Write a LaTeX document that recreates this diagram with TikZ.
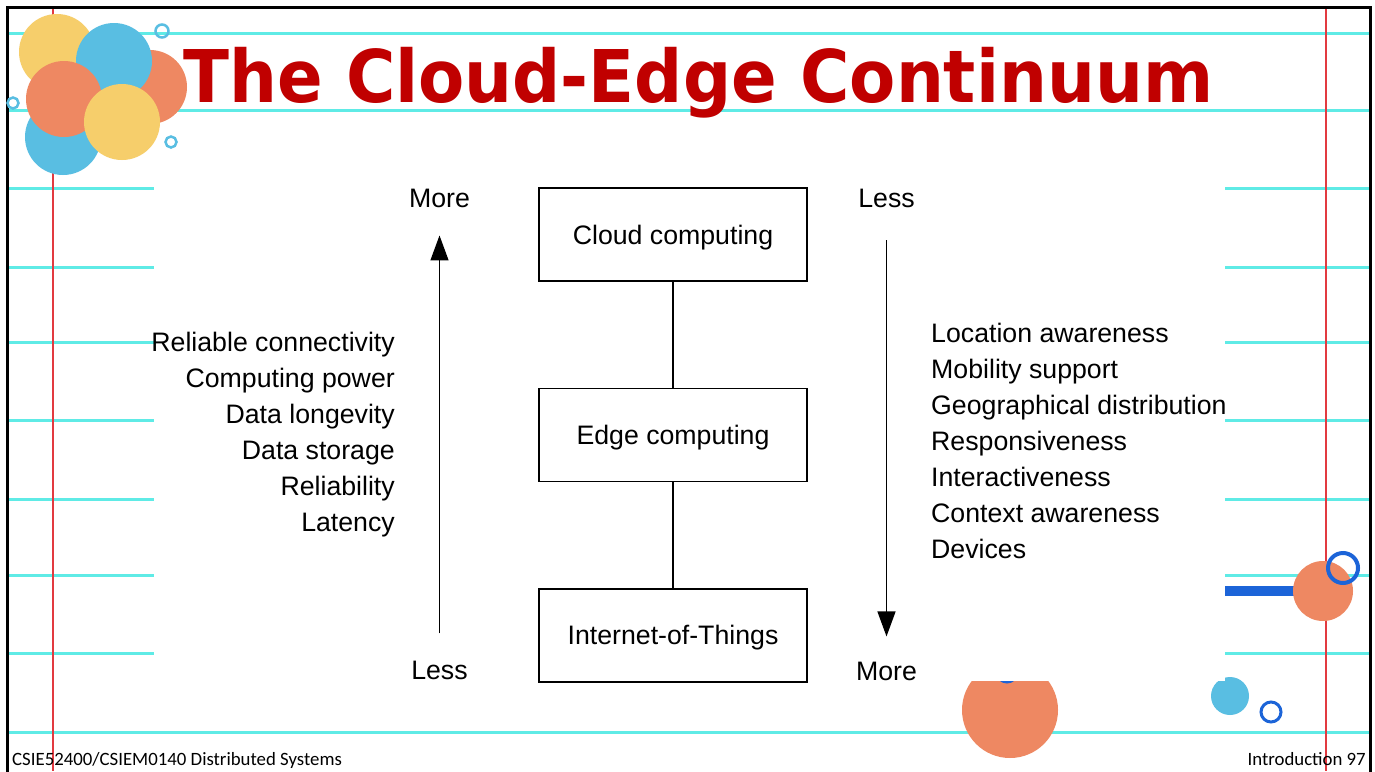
\documentclass[tikz,border=0pt]{standalone}
\usepackage{fontspec}
\setmainfont{Liberation Sans}
\newfontfamily\headfont{DejaVu Sans}
\newfontfamily\footfont{Carlito}
\usetikzlibrary{arrows.meta, positioning}

\definecolor{guidecyan}{HTML}{5FEBE6}
\definecolor{marginred}{HTML}{E23A40}
\definecolor{titlered}{HTML}{C00000}
\definecolor{sunny}{HTML}{F6CE6B}
\definecolor{sky}{HTML}{59BEE2}
\definecolor{coral}{HTML}{EE8862}
\definecolor{ringblue}{HTML}{1C64D8}

\begin{document}
\begin{tikzpicture}[
		x=1pt, y=-1pt,
		node distance=106pt,
		every node/.style={inner sep=0pt, font=\fontsize{26.7}{36}\selectfont},
		box/.style={rectangle, draw, line width=1.4pt, minimum width=268pt, minimum height=93pt, text depth=0pt},
		arrow/.style={-{Triangle[length=25pt, width=18pt]}, line width=1.4pt},
		guide/.style={draw=guidecyan, line width=3pt},
		margin/.style={draw=marginred, line width=1.8pt},
		ring/.style={line width=2.5pt}
		]

		\useasboundingbox (0,0) rectangle (1375,771);
		\fill[white] (0,0) rectangle (1375,771);

		% ruled paper
		\draw[guide] (7,33) -- (1370,33);
		\draw[guide] (7,110) -- (1370,110);
		\draw[guide] (7,188) -- (1370,188);
		\draw[guide] (7,267) -- (1370,267);
		\draw[guide] (7,342) -- (1370,342);
		\draw[guide] (7,420) -- (1370,420);
		\draw[guide] (7,499) -- (1370,499);
		\draw[guide] (7,575) -- (1370,575);
		\draw[guide] (7,653) -- (1370,653);
		\draw[guide] (7,732) -- (1370,732);
		\draw[margin] (53,7) -- (53,771);
		\draw[margin] (1326,7) -- (1326,771);
		\draw[line width=3pt] (7,775) -- (7,7) -- (1370,7) -- (1370,775);

		% bubbles, top left
		\fill[coral] (150,87) circle (37);
		\fill[sunny] (57,52) circle (38);
		\fill[sky] (114,61) circle (38);
		\fill[sky] (63,137) circle (38);
		\fill[coral] (64,99) circle (38);
		\fill[sunny] (122,122) circle (38);
		\draw[ring, sky] (162,31) circle (6.5);
		\draw[ring, sky] (13,103) circle (5.5);
		\draw[ring, sky] (171,142) circle (5.5);

		% bubbles, bottom right
		\fill[coral] (1010,710) circle (48);
		\draw[ring, ringblue, line width=3pt] (1007,672) circle (10);
		\draw[ringblue, line width=10pt] (1200,591) -- (1300,591);
		\fill[coral] (1323,591) circle (30);
		\draw[ringblue, line width=4pt] (1343,568) circle (15);
		\fill[sky] (1230,696) circle (19);
		\draw[ringblue, line width=3pt] (1271,712) circle (10);

		\node[font=\headfont\bfseries\fontsize{72.7}{80}\selectfont, text=titlered, anchor=base west, xscale=0.926, transform shape] (title) at (183,102) {The Cloud-Edge Continuum};

		% diagram panel
		\fill[white] (154,182) rectangle (1225,681);

		\node[box] (cloud) at (673,234.5) {Cloud computing};
		\node[box, below=of cloud] (edge) {Edge computing};
		\node[box, below=of edge] (iot) {Internet-of-Things};

		\draw[line width=1.4pt] (cloud) -- (edge);
		\draw[line width=1.4pt] (edge) -- (iot);

		\node[anchor=base] (moreL) at (439.5,207) {More};
		\node[anchor=base] (lessL) at (439.5,679) {Less};
		\node[anchor=base] (lessR) at (886.5,207) {Less};
		\node[anchor=base] (moreR) at (886.5,680) {More};

		\draw[arrow, shorten <=27pt, shorten >=28pt] (lessL) -- (moreL);
		\draw[arrow, shorten <=33pt, shorten >=25pt] (lessR) -- (moreR);

		\node[anchor=north east, align=right] (cloudpros) at (395,332) {Reliable connectivity\\Computing power\\Data longevity\\Data storage\\Reliability\\Latency};
		\node[anchor=north west, align=left] (edgepros) at (931,323) {Location awareness\\Mobility support\\Geographical distribution\\Responsiveness\\Interactiveness\\Context awareness\\Devices};

		% footer
		\node[font=\footfont\fontsize{18.8}{22}\selectfont, anchor=base west] (course) at (12,765) {CSIE52400/CSIEM0140 Distributed Systems};
		\node[font=\footfont\fontsize{18.8}{22}\selectfont, anchor=base east] (page) at (1366,765) {Introduction 97};

\end{tikzpicture}
\end{document}
